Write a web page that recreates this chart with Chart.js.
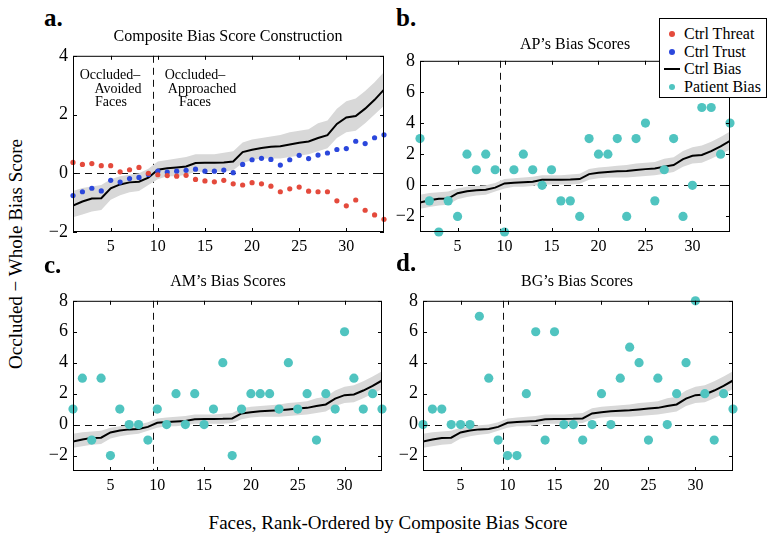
<!DOCTYPE html>
<html>
<head>
<meta charset="utf-8">
<script src="https://cdn.jsdelivr.net/npm/chart.js@4.4.1/dist/chart.umd.min.js"></script>
<style>
  body { margin: 0; background: #fff; font-family: "Liberation Serif", "DejaVu Serif", serif; color: #000; }
  #wrap { position: relative; width: 776px; height: 545px; overflow: hidden; }
  canvas { position: absolute; }
  .t { position: absolute; white-space: nowrap; line-height: 1; transform: translate(-50%, -50%); }
  .lab { position: absolute; font-weight: bold; font-size: 25px; line-height: 1; }
  #legend { position: absolute; left: 659px; top: 18px; width: 106px; height: 78px; border: 1px solid #000; background: #fff; font-size: 16px; }
  #legend div { position: absolute; left: 24px; line-height: 1; }
  #legend span { position: absolute; }
</style>
</head>
<body>
<div id="wrap">
  <canvas id="pa"></canvas>
  <canvas id="pb"></canvas>
  <canvas id="pc"></canvas>
  <canvas id="pd"></canvas>

  <div class="lab" style="left:44px; top:5px;">a.</div>
  <div class="lab" style="left:396px; top:5px;">b.</div>
  <div class="lab" style="left:44px; top:252px;">c.</div>
  <div class="lab" style="left:396px; top:250px;">d.</div>

  <div class="t" style="left:228px; top:36px; font-size:16px;">Composite Bias Score Construction</div>
  <div class="t" style="left:575px; top:44px; font-size:16px;">AP’s Bias Scores</div>
  <div class="t" style="left:228px; top:281px; font-size:16px;">AM’s Bias Scores</div>
  <div class="t" style="left:577px; top:281px; font-size:16px;">BG’s Bias Scores</div>

  <div class="t" style="left:110px; top:75px; font-size:14px;">Occluded–</div>
  <div class="t" style="left:118px; top:89px; font-size:14px;">Avoided</div>
  <div class="t" style="left:111px; top:102px; font-size:14px;">Faces</div>
  <div class="t" style="left:195px; top:75px; font-size:14px;">Occluded–</div>
  <div class="t" style="left:202px; top:89px; font-size:14px;">Approached</div>
  <div class="t" style="left:195px; top:102px; font-size:14px;">Faces</div>

  <div class="t" style="left:15px; top:254px; font-size:19px; transform: translate(-50%, -50%) rotate(-90deg);">Occluded − Whole Bias Score</div>
  <div class="t" style="left:388px; top:522px; font-size:19px;">Faces, Rank-Ordered by Composite Bias Score</div>

  <div id="legend"></div>
</div>

<script>
// faces, rank-ordered
const faces = [1, 2, 3, 4, 5, 6, 7, 8, 9, 10, 11, 12, 13, 14, 15, 16, 17,
  18, 19, 20, 21, 22, 23, 24, 25, 26, 27, 28, 29, 30, 31, 32, 33, 34];

const ctrlThreat = [0.37, 0.30, 0.33, 0.26, 0.26, 0.05, 0.12, 0.20, 0.00, -0.05,
  -0.08, -0.10, -0.07, -0.21, -0.26, -0.29, -0.24, -0.36, -0.40, -0.32,
  -0.36, -0.44, -0.63, -0.53, -0.47, -0.61, -0.63, -0.63, -0.94, -1.11,
  -0.91, -1.26, -1.42, -1.57];

const ctrlTrust = [-0.76, -0.63, -0.51, -0.60, -0.24, -0.30, -0.18, -0.14, -0.04, 0.07,
  0.04, 0.07, 0.10, 0.14, 0.07, 0.07, 0.11, 0.02, 0.30, 0.46,
  0.51, 0.47, 0.28, 0.46, 0.61, 0.50, 0.62, 0.69, 0.81, 0.84,
  1.09, 1.01, 1.21, 1.31];

const ctrlBias = [-1.10, -0.96, -0.86, -0.85, -0.51, -0.38, -0.31, -0.29, -0.15, 0.12,
  0.17, 0.20, 0.23, 0.35, 0.36, 0.36, 0.37, 0.40, 0.72, 0.80,
  0.86, 0.90, 0.92, 0.98, 1.04, 1.08, 1.20, 1.30, 1.68, 1.90,
  1.95, 2.20, 2.50, 2.85];

const biasUpper = [-0.60, -0.50, -0.45, -0.40, -0.20, -0.10, -0.05, 0.00, 0.15, 0.40,
  0.45, 0.50, 0.55, 0.65, 0.65, 0.65, 0.70, 0.75, 1.05, 1.15,
  1.20, 1.25, 1.30, 1.40, 1.45, 1.50, 1.70, 1.80, 2.20, 2.45,
  2.55, 2.80, 3.10, 3.45];

const biasLower = [-1.50, -1.40, -1.30, -1.25, -0.90, -0.75, -0.65, -0.60, -0.40, -0.20,
  -0.10, -0.10, -0.05, 0.05, 0.05, 0.05, 0.05, 0.10, 0.35, 0.45,
  0.50, 0.50, 0.50, 0.55, 0.60, 0.65, 0.75, 0.85, 1.20, 1.40,
  1.45, 1.70, 2.00, 2.30];

const apBias = [3, -1, -3, -1, -2, 2, 1, 2, 1, -3, 1, 2, 1, 0, 1, -1, -1,
  -2, 3, 2, 2, 3, -2, 3, 4, -1, 1, 3, -2, 0, 5, 5, 2, 4];

const amBias = [1, 3, -1, 3, -2, 1, 0, 0, -1, 1, 0, 2, 0, 2, 0, 1, 4,
  -2, 1, 2, 2, 2, 1, 4, 1, 2, -1, 2, 1, 6, 3, 1, 2, 1];

const bgBias = [0, 1, 1, 0, 0, 0, 7, 3, -1, -2, -2, 2, 6, -1, 6, 0, 0,
  -1, 0, 2, 0, 3, 5, 4, -1, 3, 0, 2, 4, 8, 2, -1, 2, 1];

const xTicks = [5, 10, 15, 20, 25, 30];
const yTicksA = [-2, 0, 2, 4];
const yTicksP = [-2, 0, 2, 4, 6, 8];
const splitAt = 9.5;

const RED = "#e44a3c";
const BLUE = "#2b47dc";
const TEAL = "#50c4c0";
const BAND = "#d8d8d8";
const FONT = "'Liberation Serif', 'Times New Roman', serif";

const legendItems = [
  { label: "Ctrl Threat", color: RED, kind: "dot" },
  { label: "Ctrl Trust", color: BLUE, kind: "dot" },
  { label: "Ctrl Bias", color: "#000", kind: "line" },
  { label: "Patient Bias", color: TEAL, kind: "dot" }
];

Chart.defaults.font.family = FONT;
Chart.defaults.color = "#000";

function pts(vals) {
  return faces.map((f, i) => ({ x: f, y: vals[i] }));
}

// frame, inward ticks and dashed reference lines, matplotlib style
const framePlugin = {
  id: "frame",
  beforeDatasetsDraw(chart) {
    const { ctx, chartArea: a, scales } = chart;
    const x0 = Math.round(scales.x.getPixelForValue(splitAt)) + 0.5;
    const y0 = Math.round(scales.y.getPixelForValue(0)) + 0.5;
    ctx.save();
    ctx.strokeStyle = "#111";
    ctx.lineWidth = 1;
    ctx.setLineDash([7, 5]);
    ctx.beginPath();
    ctx.moveTo(a.left, y0);
    ctx.lineTo(a.right, y0);
    ctx.moveTo(x0, a.top);
    ctx.lineTo(x0, a.bottom);
    ctx.stroke();
    ctx.restore();
  },
  afterDraw(chart) {
    const { ctx, chartArea: a, scales } = chart;
    ctx.save();
    ctx.strokeStyle = "#000";
    ctx.lineWidth = 1;
    ctx.strokeRect(a.left + 0.5, a.top + 0.5, a.right - a.left - 1, a.bottom - a.top - 1);
    ctx.beginPath();
    scales.x.ticks.forEach(t => {
      const px = Math.round(scales.x.getPixelForValue(t.value)) + 0.5;
      ctx.moveTo(px, a.bottom); ctx.lineTo(px, a.bottom - 4);
      ctx.moveTo(px, a.top); ctx.lineTo(px, a.top + 4);
    });
    scales.y.ticks.forEach(t => {
      const py = Math.round(scales.y.getPixelForValue(t.value)) + 0.5;
      ctx.moveTo(a.left, py); ctx.lineTo(a.left + 4, py);
      ctx.moveTo(a.right, py); ctx.lineTo(a.right - 4, py);
    });
    ctx.stroke();
    ctx.restore();
  }
};

function makePanel(id, box, yMin, yMax, yTicks, dotSets) {
  const cv = document.getElementById(id);
  const padL = 45, padT = 12, padR = 10, padB = 30;
  cv.width = box.r - box.l + padL + padR;
  cv.height = box.b - box.t + padT + padB;
  cv.style.left = (box.l - padL) + "px";
  cv.style.top = (box.t - padT) + "px";

  const datasets = [
    ...dotSets.map(d => ({
      data: pts(d.vals), showLine: false, pointRadius: d.r, pointHoverRadius: d.r,
      pointBackgroundColor: d.color, pointBorderWidth: 0, order: 0, clip: false
    })),
    { data: pts(ctrlBias), borderColor: "#000", borderWidth: 2, pointRadius: 0, tension: 0, fill: false, order: 1 },
    { data: pts(biasUpper), borderWidth: 0, pointRadius: 0, backgroundColor: BAND, fill: "+1", order: 2 },
    { data: pts(biasLower), borderWidth: 0, pointRadius: 0, fill: false, order: 3 }
  ];

  new Chart(cv, {
    type: "line",
    data: { datasets },
    plugins: [framePlugin],
    options: {
      responsive: false,
      animation: false,
      devicePixelRatio: 1,
      layout: { padding: { left: 0, top: padT, right: padR, bottom: 0 } },
      plugins: { legend: { display: false }, tooltip: { enabled: false } },
      scales: {
        x: {
          type: "linear", min: 1, max: 34,
          afterBuildTicks: s => { s.ticks = xTicks.map(v => ({ value: v })); },
          afterFit: s => { s.height = padB; },
          grid: { display: false, drawTicks: false },
          border: { display: false },
          ticks: { color: "#000", padding: 5, font: { family: FONT, size: 16 } }
        },
        y: {
          min: yMin, max: yMax,
          afterBuildTicks: s => { s.ticks = yTicks.map(v => ({ value: v })); },
          afterFit: s => { s.width = padL; },
          grid: { display: false, drawTicks: false },
          border: { display: false },
          ticks: {
            color: "#000", padding: 5, font: { family: FONT, size: 18 },
            callback: v => String(v).replace("-", "\u2212")
          }
        }
      }
    }
  });
}

function drawAll() {
  makePanel("pa", { l: 73, t: 52, r: 384, b: 232 }, -2, 4, yTicksA, [
    { vals: ctrlThreat, color: RED, r: 2.6 },
    { vals: ctrlTrust, color: BLUE, r: 2.6 }
  ]);
  makePanel("pb", { l: 420, t: 57, r: 730, b: 232 }, -3, 8, yTicksP, [
    { vals: apBias, color: TEAL, r: 4.6 }
  ]);
  makePanel("pc", { l: 73, t: 297, r: 382, b: 471 }, -3, 8, yTicksP, [
    { vals: amBias, color: TEAL, r: 4.6 }
  ]);
  makePanel("pd", { l: 423, t: 297, r: 733, b: 471 }, -3, 8, yTicksP, [
    { vals: bgBias, color: TEAL, r: 4.6 }
  ]);
}

// make sure the serif face is ready before the canvases draw text
document.fonts.load("16px 'Liberation Serif'").then(drawAll, drawAll);

// legend box
const legend = document.getElementById("legend");
legendItems.forEach((it, i) => {
  const cy = 15 + i * 17.5;
  const mark = document.createElement("span");
  if (it.kind === "dot") {
    mark.style.cssText = `left:9px; top:${cy - 3}px; width:6px; height:6px; border-radius:50%; background:${it.color};`;
  } else {
    mark.style.cssText = `left:4px; top:${cy - 1}px; width:16px; height:2px; background:${it.color};`;
  }
  legend.appendChild(mark);
  const txt = document.createElement("div");
  txt.textContent = it.label;
  txt.style.top = (cy - 8) + "px";
  legend.appendChild(txt);
});
</script>
</body>
</html>
